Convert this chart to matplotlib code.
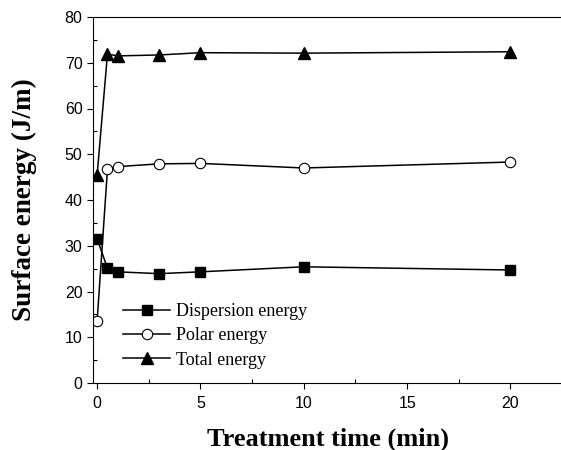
import matplotlib.pyplot as plt
from matplotlib.ticker import MultipleLocator

# Treatment time (min)
time = [0, 0.5, 1, 3, 5, 10, 20]

# Surface energy values
dispersion = [31.5, 25.1, 24.3, 23.9, 24.3, 25.4, 24.7]
polar = [13.6, 46.7, 47.3, 47.9, 48.0, 47.0, 48.3]
total = [45.5, 71.9, 71.5, 71.7, 72.2, 72.1, 72.4]

fig = plt.figure(figsize=(5.61, 4.5), dpi=100)
ax = fig.add_axes([93 / 561, 67 / 450, 1 - 93 / 561 + 0.002, 366 / 450])

ax.plot(time, dispersion, color='black', lw=1.1, marker='s', ms=6.5,
        mfc='black', mec='black', label='Dispersion energy')
ax.plot(time, polar, color='black', lw=1.1, marker='o', ms=7.5,
        mfc='white', mec='black', mew=0.8, label='Polar energy')
ax.plot(time, total, color='black', lw=1.1, marker='^', ms=8,
        mfc='black', mec='black', label='Total energy')

ax.set_xlim(-0.2, 22.5)
ax.set_ylim(0, 80)
ax.xaxis.set_major_locator(MultipleLocator(5))
ax.xaxis.set_minor_locator(MultipleLocator(2.5))
ax.yaxis.set_major_locator(MultipleLocator(10))
ax.yaxis.set_minor_locator(MultipleLocator(5))
ax.tick_params(which='major', direction='out', length=4, width=0.8,
               labelsize=11.5)
ax.tick_params(axis='x', which='major', pad=5)
ax.tick_params(which='minor', direction='in', length=3, width=0.8)
for lab in ax.get_xticklabels() + ax.get_yticklabels():
    lab.set_fontfamily('Liberation Sans')
ax.spines['right'].set_visible(False)

ax.set_xlabel('Treatment time (min)', fontfamily='Liberation Serif',
              fontweight='bold', fontsize=19, labelpad=12)
ax.set_ylabel('Surface energy (J/m)', fontfamily='Liberation Serif',
              fontweight='bold', fontsize=19.5, labelpad=20)

ax.legend(loc='lower left', bbox_to_anchor=(0.03, -0.005), frameon=False,
          prop={'family': 'Liberation Serif', 'size': 13},
          handlelength=2.6, handletextpad=0.3, labelspacing=0.4)

fig.savefig('out.png', dpi=100)
